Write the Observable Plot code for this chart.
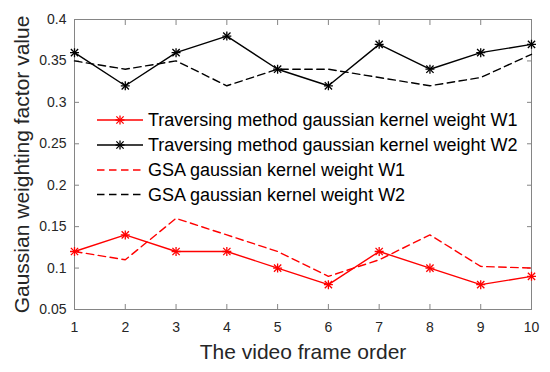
<!DOCTYPE html>
<html>
<head>
<meta charset="utf-8">
<script src="https://cdn.jsdelivr.net/npm/d3@7"></script>
<script src="https://cdn.jsdelivr.net/npm/@observablehq/plot@0.6"></script>
<style>
  html, body { margin: 0; padding: 0; background: #fff; }
  #chart { width: 550px; height: 372px; }
</style>
</head>
<body>
<div id="chart"></div>
<script>
const frames = [1, 2, 3, 4, 5, 6, 7, 8, 9, 10];
const travW1 = [0.12, 0.14, 0.12, 0.12, 0.10, 0.08, 0.12, 0.10, 0.08, 0.09];
const travW2 = [0.36, 0.32, 0.36, 0.38, 0.34, 0.32, 0.37, 0.34, 0.36, 0.37];
const gsaW1 = [0.12, 0.11, 0.16, 0.14, 0.12, 0.09, 0.11, 0.14, 0.102, 0.10];
const gsaW2 = [0.35, 0.34, 0.35, 0.32, 0.34, 0.34, 0.33, 0.32, 0.33, 0.358];
const xTicks = frames;
const yTicks = [0.05, 0.1, 0.15, 0.2, 0.25, 0.3, 0.35, 0.4];
const yTickLabels = ["0.05", "0.1", "0.15", "0.2", "0.25", "0.3", "0.35", "0.4"];
const seriesNames = [
  "Traversing method gaussian kernel weight W1",
  "Traversing method gaussian kernel weight W2",
  "GSA gaussian kernel weight W1",
  "GSA gaussian kernel weight W2"
];
const seriesColors = ["#ff0000", "#000000", "#ff0000", "#000000"];
const xLabel = "The video frame order";
const yLabel = "Gaussian weighting factor value";

const toRows = (vals) => frames.map((f, i) => ({x: f, y: vals[i]}));
const rW1 = toRows(travW1), rW2 = toRows(travW2), gW1 = toRows(gsaW1), gW2 = toRows(gsaW2);

const font = "'Liberation Sans', Arial, Helvetica, sans-serif";
const axisColor = "#262626";
const boxColor = "#858585";
const dash = "7.5,4.5";
const noText = () => "";
const plusR = 3.0, timesR = 3.4;

const chart = Plot.plot({
  width: 550,
  height: 372,
  marginLeft: 74,
  marginRight: 19,
  marginTop: 19,
  marginBottom: 63,
  style: {fontFamily: font, background: "#fff", overflow: "visible"},
  x: {domain: [1, 10], axis: null},
  y: {domain: [0.05, 0.4], axis: null},
  marks: [
    Plot.frame({stroke: boxColor, strokeWidth: 1}),
    Plot.axisX(xTicks, {anchor: "bottom", tickSize: -5, stroke: boxColor, tickFormat: noText, label: null}),
    Plot.axisX(xTicks, {anchor: "top", tickSize: -5, stroke: boxColor, tickFormat: noText, label: null}),
    Plot.axisY(yTicks, {anchor: "left", tickSize: -5, stroke: boxColor, tickFormat: noText, label: null}),
    Plot.axisY(yTicks, {anchor: "right", tickSize: -5, stroke: boxColor, tickFormat: noText, label: null}),
    Plot.axisX(xTicks, {anchor: "bottom", tickSize: 0, tickPadding: 13, fontSize: 14, fill: axisColor, tickFormat: d => String(d), label: null}),
    Plot.axisY(yTicks, {anchor: "left", tickSize: 0, tickPadding: 8, fontSize: 14, fill: axisColor, tickFormat: (d, i) => yTickLabels[i], label: null}),
    Plot.text([xLabel], {frameAnchor: "bottom", dy: 43, fontSize: 21, fill: axisColor, lineAnchor: "middle", textAnchor: "middle", text: d => d}),
    Plot.text([yLabel], {frameAnchor: "left", dx: -52, rotate: -90, fontSize: 21, fill: axisColor, lineAnchor: "middle", textAnchor: "middle", text: d => d}),
    Plot.line(gW1, {x: "x", y: "y", stroke: seriesColors[2], strokeWidth: 1.4, strokeDasharray: dash}),
    Plot.line(gW2, {x: "x", y: "y", stroke: seriesColors[3], strokeWidth: 1.4, strokeDasharray: dash}),
    Plot.line(rW1, {x: "x", y: "y", stroke: seriesColors[0], strokeWidth: 1.4}),
    Plot.line(rW2, {x: "x", y: "y", stroke: seriesColors[1], strokeWidth: 1.4}),
    Plot.dot(rW1, {x: "x", y: "y", symbol: "plus", r: plusR, stroke: seriesColors[0], strokeWidth: 1.3}),
    Plot.dot(rW1, {x: "x", y: "y", symbol: "times", r: timesR, stroke: seriesColors[0], strokeWidth: 1.3}),
    Plot.dot(rW2, {x: "x", y: "y", symbol: "plus", r: plusR, stroke: seriesColors[1], strokeWidth: 1.3}),
    Plot.dot(rW2, {x: "x", y: "y", symbol: "times", r: timesR, stroke: seriesColors[1], strokeWidth: 1.3})
  ]
});
document.getElementById("chart").appendChild(chart);

// Legend (inside the axes, MATLAB style without box)
const svg = d3.select(chart);
const legend = svg.append("g").attr("font-family", font).attr("text-anchor", "start");
const rowY = [120, 145, 170, 194.5];
const markers = [true, true, false, false];
const dashed = [false, false, true, true];
seriesNames.forEach((name, i) => {
  const g = legend.append("g").attr("transform", `translate(0,${rowY[i]})`);
  g.append("line").attr("x1", 97).attr("x2", 143).attr("y1", 0).attr("y2", 0)
    .attr("stroke", seriesColors[i]).attr("stroke-width", 1.4)
    .attr("stroke-dasharray", dashed[i] ? dash : null);
  if (markers[i]) {
    g.append("path").attr("transform", "translate(120,0)")
      .attr("d", d3.symbol(d3.symbolPlus, plusR * plusR * Math.PI)())
      .attr("fill", "none").attr("stroke", seriesColors[i]).attr("stroke-width", 1.3);
    g.append("path").attr("transform", "translate(120,0)")
      .attr("d", d3.symbol(d3.symbolTimes, timesR * timesR * Math.PI)())
      .attr("fill", "none").attr("stroke", seriesColors[i]).attr("stroke-width", 1.3);
  }
  g.append("text").attr("x", 148).attr("y", 0).attr("dy", "0.35em")
    .attr("text-anchor", "start")
    .attr("font-size", 18).attr("fill", "#000").text(name);
});
</script>
</body>
</html>
